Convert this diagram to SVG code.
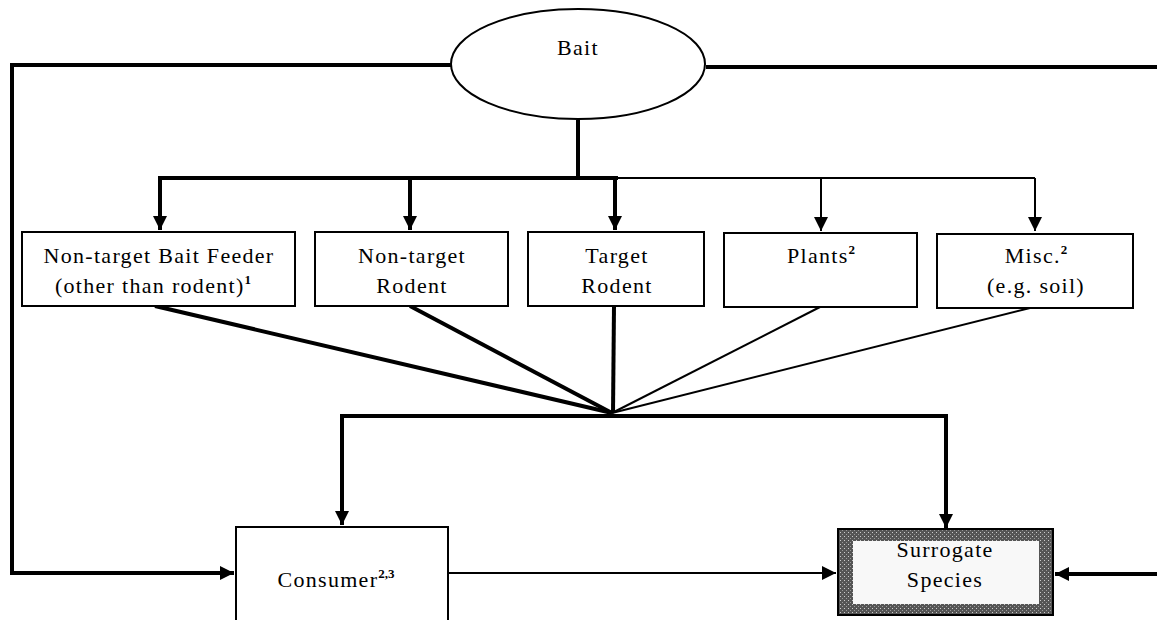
<svg xmlns="http://www.w3.org/2000/svg" width="1157" height="620" viewBox="0 0 1157 620">
<style>
  text { font-family: "Liberation Serif", "Times New Roman", serif; font-size: 22px; letter-spacing: 1.3px; fill: #000; text-anchor: middle; }
  .sup { font-size: 13px; letter-spacing: 0; font-weight: bold; }
  .box { fill: #fff; stroke: #000; stroke-width: 2; }
  .thick { fill: none; stroke: #000; stroke-width: 4; }
  .thin { fill: none; stroke: #000; stroke-width: 2; }
</style>
<defs>
  <marker id="ah" viewBox="0 0 10 10" refX="10" refY="5" markerWidth="14" markerHeight="14" markerUnits="userSpaceOnUse" orient="auto">
    <path d="M0,0 L10,5 L0,10 Z" fill="#000"/>
  </marker>
  <pattern id="stip" width="4" height="4" patternUnits="userSpaceOnUse">
    <rect width="4" height="4" fill="#555"/>
    <rect x="0" y="0" width="1" height="1" fill="#ccc"/>
    <rect x="2" y="2" width="1" height="1" fill="#999"/>
  </pattern>
</defs>
<g id="connectors">
  <polyline class="thick" points="452,65 12,65 12,573 234,573" marker-end="url(#ah)"/>
  <line class="thick" x1="706" y1="67" x2="1157" y2="67"/>
  <line class="thick" x1="1157" y1="574" x2="1055" y2="574" marker-end="url(#ah)"/>
  <line class="thick" x1="578" y1="120" x2="578" y2="178"/>
  <line class="thick" x1="158" y1="178" x2="618" y2="178"/>
  <line class="thin" x1="618" y1="178" x2="1035" y2="178"/>
  <line class="thick" x1="160" y1="178" x2="160" y2="230" marker-end="url(#ah)"/>
  <line class="thick" x1="410" y1="178" x2="410" y2="230" marker-end="url(#ah)"/>
  <line class="thick" x1="615" y1="178" x2="615" y2="230" marker-end="url(#ah)"/>
  <line class="thin" x1="821" y1="178" x2="821" y2="231" marker-end="url(#ah)"/>
  <line class="thin" x1="1035" y1="178" x2="1035" y2="231" marker-end="url(#ah)"/>
  <line class="thick" x1="155" y1="306" x2="612" y2="413"/>
  <line class="thick" x1="410" y1="306" x2="612" y2="413"/>
  <line class="thick" x1="614" y1="306" x2="613" y2="413"/>
  <line class="thin" x1="820" y1="307" x2="612" y2="413"/>
  <line class="thin" x1="1030" y1="308" x2="612" y2="413"/>
  <polyline class="thick" points="342,525 342,416 946,416 946,527" />
  <line class="thick" x1="342" y1="500" x2="342" y2="525" marker-end="url(#ah)"/>
  <line class="thick" x1="946" y1="500" x2="946" y2="528" marker-end="url(#ah)"/>
  <line class="thin" x1="448" y1="573" x2="836" y2="573" marker-end="url(#ah)"/>
</g>
<g id="bait">
  <ellipse cx="578" cy="64" rx="127" ry="55" fill="#fff" stroke="#000" stroke-width="2"/>
  <text x="578" y="55">Bait</text>
</g>
<g id="nontarget-feeder">
  <rect class="box" x="22" y="232" width="273" height="74"/>
  <text x="159" y="263">Non-target Bait Feeder</text>
  <text x="153" y="293">(other than rodent)<tspan class="sup" dy="-9">1</tspan></text>
</g>
<g id="nontarget-rodent">
  <rect class="box" x="315" y="232" width="193" height="74"/>
  <text x="412" y="263">Non-target</text>
  <text x="412" y="293">Rodent</text>
</g>
<g id="target-rodent">
  <rect class="box" x="528" y="232" width="176" height="74"/>
  <text x="617" y="263">Target</text>
  <text x="617" y="293">Rodent</text>
</g>
<g id="plants">
  <rect class="box" x="724" y="233" width="193" height="74"/>
  <text x="821" y="263">Plants<tspan class="sup" dy="-9">2</tspan></text>
</g>
<g id="misc">
  <rect class="box" x="937" y="234" width="196" height="74"/>
  <text x="1036" y="263">Misc.<tspan class="sup" dy="-9">2</tspan></text>
  <text x="1036" y="293">(e.g. soil)</text>
</g>
<g id="consumer">
  <rect class="box" x="236" y="527" width="212" height="94"/>
  <text x="336" y="587">Consumer<tspan class="sup" dy="-9">2,3</tspan></text>
</g>
<g id="surrogate">
  <rect x="838" y="529" width="215" height="86" fill="url(#stip)" stroke="#000" stroke-width="2"/>
  <rect x="853" y="541" width="186" height="63" fill="#f8f8f8"/>
  <text x="945" y="557">Surrogate</text>
  <text x="945" y="587">Species</text>
</g>
</svg>
